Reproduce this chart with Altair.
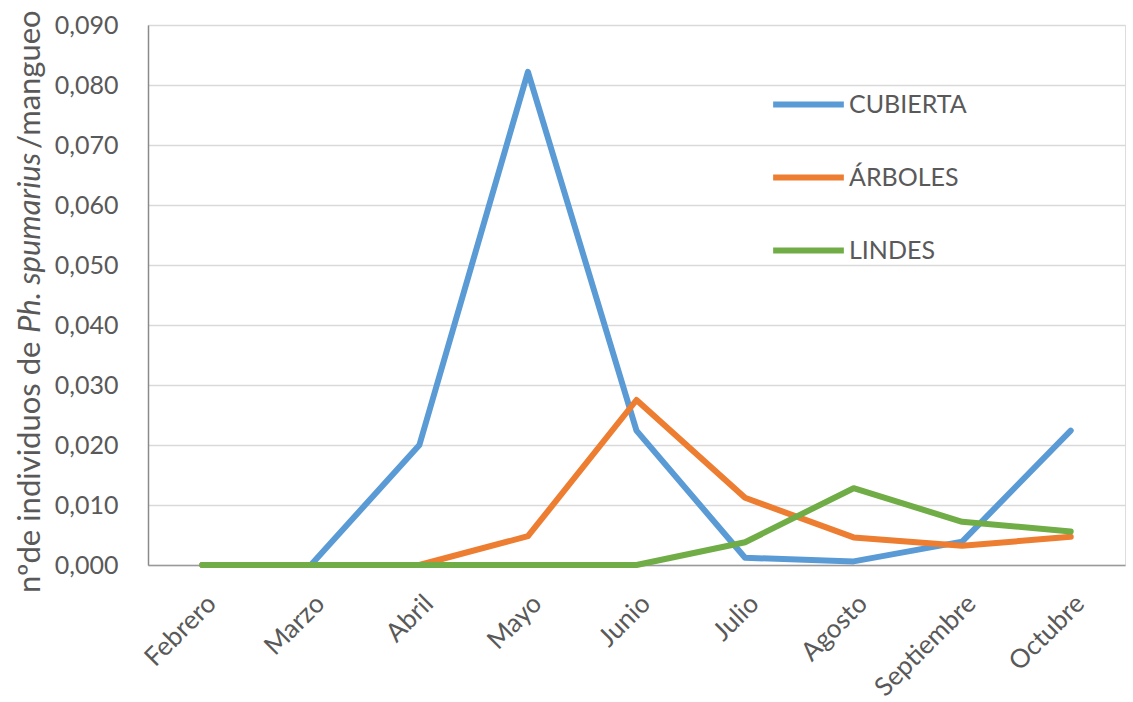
import altair as alt
import pandas as pd

months = ["Febrero", "Marzo", "Abril", "Mayo", "Junio", "Julio", "Agosto", "Septiembre", "Octubre"]
series_names = ["CUBIERTA", "ÁRBOLES", "LINDES"]
cubierta = [0.0, 0.0, 0.0200, 0.0822, 0.0224, 0.0012, 0.0006, 0.0039, 0.0224]
arboles = [0.0, 0.0, 0.0, 0.0048, 0.0275, 0.0112, 0.0046, 0.0032, 0.0047]
lindes = [0.0, 0.0, 0.0, 0.0, 0.0, 0.0038, 0.0128, 0.0072, 0.0056]
colors = ["#5B9BD5", "#ED7D31", "#70AD47"]
y_ticks = [0.0, 0.01, 0.02, 0.03, 0.04, 0.05, 0.06, 0.07, 0.08, 0.09]

rows = []
for name, vals in zip(series_names, [cubierta, arboles, lindes]):
    for m, v in zip(months, vals):
        rows.append({"mes": m, "serie": name, "valor": v})
df = pd.DataFrame(rows)

FONT = "Lato"
TXT = "#595959"

lines = alt.Chart(df).mark_line(strokeWidth=6, strokeCap="round", strokeJoin="round").encode(
    x=alt.X("mes:N", sort=months, title=None,
            scale=alt.Scale(type="point", padding=0.5),
            axis=alt.Axis(labelAngle=-45, labelFontSize=26, labelColor=TXT, labelFont=FONT,
                          domainColor="#9A9A9A", domainWidth=1.5, ticks=False, labelPadding=25,
                          grid=False)),
    y=alt.Y("valor:Q", title=None,
            scale=alt.Scale(domain=[0, 0.09], nice=False),
            axis=alt.Axis(values=y_ticks, labelExpr="replace(format(datum.value, '.3f'), '.', ',')",
                          labelFontSize=25, labelColor=TXT, labelFont=FONT, labelPadding=30,
                          ticks=False, domainColor="#8A8A8A", domainWidth=1.5,
                          gridColor="#D9D9D9", gridWidth=1.5)),
    color=alt.Color("serie:N", sort=series_names,
                    scale=alt.Scale(domain=series_names, range=colors),
                    legend=alt.Legend(title=None, orient="none", legendX=622, legendY=41,
                                      symbolType="M-1,0H1", symbolSize=5000, symbolStrokeWidth=6,
                                      labelFontSize=25, labelFont=FONT, labelColor=TXT,
                                      labelOffset=2, rowPadding=21, padding=0)),
)

title_parts = pd.DataFrame({
    "t": ["nºde individuos de", "Ph. spumarius", "/mangueo"],
})

def seg(i, ypos, style):
    return alt.Chart(title_parts.iloc[[i]]).mark_text(
        angle=270, align="left", baseline="middle", fontSize=31, font=FONT,
        color=TXT, fontStyle=style
    ).encode(text="t:N", x=alt.value(-117), y=alt.value(ypos))

title = seg(0, 568, "normal") + seg(1, 308, "italic") + seg(2, 124, "normal")

chart = alt.layer(lines, title).properties(
    width=977, height=540,
    padding={"left": 148, "top": 25, "right": 8, "bottom": 137},
    autosize=alt.AutoSizeParams(type="none"),
).configure_view(stroke=None).configure(background="white")

chart.save("out.html", embed_options={"renderer": "svg", "actions": False})
